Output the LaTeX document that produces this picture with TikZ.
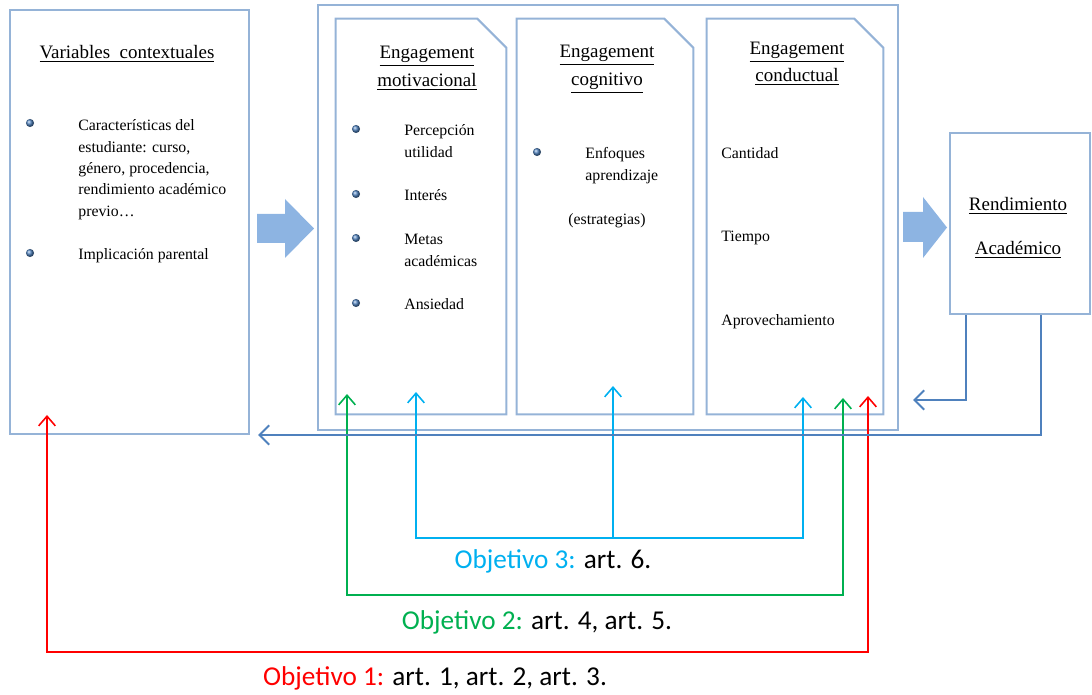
\documentclass[tikz,border=0pt]{standalone}
\usepackage{fontspec}
\setmainfont{Liberation Serif}
\newfontfamily\objfont{Carlito}
\usetikzlibrary{arrows.meta,calc}

\definecolor{boxline}{HTML}{95B3D7}
\definecolor{bigarrow}{HTML}{8DB4E2}
\definecolor{backline}{HTML}{4F81BD}
\definecolor{objthree}{HTML}{00B0F0}
\definecolor{objtwo}{HTML}{00B050}
\definecolor{objone}{HTML}{FF0000}

\tikzset{
  panel/.style={draw=boxline, line width=1.2pt, inner sep=0pt},
  area/.style={inner sep=0pt},
  head/.style={inner sep=0pt, yshift=-1.6pt, font=\fontsize{10.8}{13}\selectfont, text height=8pt, text depth=2.5pt},
  body/.style={anchor=west, inner sep=0pt, yshift=-1.2pt, font=\fontsize{9}{11}\selectfont, text height=6.5pt, text depth=2pt},
  dot/.style={circle, inner sep=0pt, minimum size=4.6pt, ball color=backline},
  objlabel/.style={inner sep=0pt, font=\objfont\fontsize{15.5}{18}\selectfont},
  back/.style={draw=backline, line width=1.2pt, -{Straight Barb[length=5.5pt,width=11pt]}},
  obj/.style={line width=0.9pt, >={Straight Barb[length=5.5pt,width=9.5pt]}}
}

\begin{document}
\begin{tikzpicture}[x=0.02cm, y=-0.02cm]
    \useasboundingbox (0,0) rectangle (1092,695);

    % cajas
    \node[panel, minimum width=4.78cm, minimum height=8.48cm] (ctx) at (129.5,222) {};
    \node[panel, minimum width=11.6cm, minimum height=8.5cm] (eng) at (608,217.5) {};
    \node[area, minimum width=3.4cm, minimum height=7.9cm] (motiv) at (421,216.5) {};
    \node[area, minimum width=3.52cm, minimum height=7.9cm] (cogn) at (605,216.5) {};
    \node[area, minimum width=3.52cm, minimum height=7.9cm] (cond) at (795,216.5) {};
    \node[panel, minimum width=2.8cm, minimum height=3.62cm] (rend) at (1020,223.5) {};
    \foreach \c in {motiv,cogn,cond}
        \draw[panel] (\c.south west) |- ($(\c.north east)+(-29,0)$) -- ($(\c.north east)+(0,29)$) -- (\c.south east) -- cycle;

    % flechas grandes
    \fill[bigarrow] (257,214) -- (285,214) -- (285,199) -- (314,228.5) -- (285,258) -- (285,243) -- (257,243) -- cycle;
    \fill[bigarrow] (903,212) -- (923,212) -- (923,197) -- (947,227.5) -- (923,258) -- (923,242) -- (903,242) -- cycle;

    % titulos
    \node[head] (t1) at (127,51) {\underline{Variables\ \ contextuales}};
    \node[head] (t2a) at (427,51) {\underline{Engagement}};
    \node[head] (t2b) at (427,79) {\underline{motivacional}};
    \node[head] (t3a) at (607,50) {\underline{Engagement}};
    \node[head] (t3b) at (607,78) {\underline{cognitivo}};
    \node[head] (t4a) at (797,47) {\underline{Engagement}};
    \node[head] (t4b) at (797,74) {\underline{conductual}};
    \node[head] (t5a) at (1018,203) {\underline{Rendimiento}};
    \node[head] (t5b) at (1018,247) {\underline{Académico}};

    % variables contextuales
    \node[dot] (d1) at (30,123) {};
    \node[dot] (d2) at (30,253) {};
    \node[body] (c1) at (78,124) {Características del};
    \node[body] (c2) at (78,146) {estudiante: curso,};
    \node[body] (c3) at (78,167) {género, procedencia,};
    \node[body] (c4) at (78,188) {rendimiento académico};
    \node[body] (c5) at (78,210) {previo…};
    \node[body] (c6) at (78,253) {Implicación parental};

    % motivacional
    \foreach \y/\n in {129/1,194/2,238/3,303/4}
        \node[dot] (dm\n) at (356,\y) {};
    \node[body] (m1) at (404,129) {Percepción};
    \node[body] (m2) at (404,151) {utilidad};
    \node[body] (m3) at (404,194) {Interés};
    \node[body] (m4) at (404,238) {Metas};
    \node[body] (m5) at (404,260) {académicas};
    \node[body] (m6) at (404,303) {Ansiedad};

    % cognitivo
    \node[dot] (dg1) at (537,152) {};
    \node[body] (g1) at (585,152) {Enfoques};
    \node[body] (g2) at (585,174) {aprendizaje};
    \node[body] (g3) at (568,218) {(estrategias)};

    % conductual
    \node[body] (k1) at (721,152) {Cantidad};
    \node[body] (k2) at (721,235) {Tiempo};
    \node[body] (k3) at (721,319) {Aprovechamiento};

    % objetivos
    \coordinate (bus3) at (0,538);
    \coordinate (bus2) at (0,595);
    \coordinate (bus1) at (0,652);
    \coordinate (o3a) at (416,392);
    \coordinate (o3b) at (613,386);
    \coordinate (o3c) at (803,397);
    \coordinate (o2a) at (347,394);
    \coordinate (o2b) at (843,398);
    \coordinate (o1a) at (47,415);
    \coordinate (o1b) at (868,396);
    \draw[obj, objthree, <->] (o3a) -- (o3a |- bus3) -- (o3c |- bus3) -- (o3c);
    \draw[obj, objthree, ->] (o3b |- bus3) -- (o3b);
    \draw[obj, objtwo, <->] (o2a) -- (o2a |- bus2) -- (o2b |- bus2) -- (o2b);
    \draw[obj, objone, <->] (o1a) -- (o1a |- bus1) -- (o1b |- bus1) -- (o1b);

    \node[objlabel] (l3) at (553,561) {\textcolor{objthree}{Objetivo 3:} art. 6.};
    \node[objlabel] (l2) at (537,622) {\textcolor{objtwo}{Objetivo 2:} art. 4, art. 5.};
    \node[objlabel] (l1) at (435,678) {\textcolor{objone}{Objetivo 1:} art. 1, art. 2, art. 3.};

    % retroalimentacion
    \coordinate (back1) at (913,400);
    \coordinate (back2) at (258,435);
    \draw[back] ($(rend.south west)+(17,0)$) |- (back1);
    \draw[back] ($(rend.south east)+(-50,0)$) |- (back2);
\end{tikzpicture}
\end{document}
